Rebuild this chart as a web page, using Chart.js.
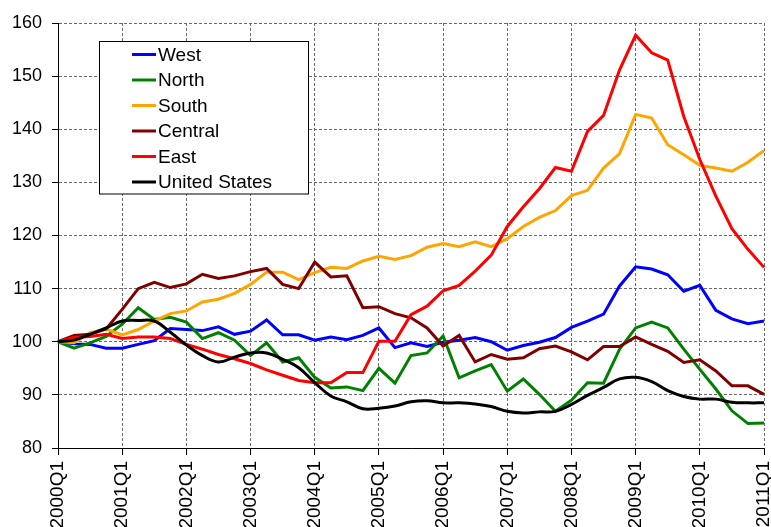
<!DOCTYPE html>
<html>
<head>
<meta charset="utf-8">
<script src="https://cdn.jsdelivr.net/npm/chart.js@4.4.1/dist/chart.umd.min.js"></script>
<style>
  html, body { margin: 0; padding: 0; background: #fff; }
  #wrap { width: 771px; height: 527px; }
</style>
</head>
<body>
<div id="wrap"><canvas id="c" width="771" height="527"></canvas></div>
<script>
const categories = [
  "2000Q1","2000Q2","2000Q3","2000Q4",
  "2001Q1","2001Q2","2001Q3","2001Q4",
  "2002Q1","2002Q2","2002Q3","2002Q4",
  "2003Q1","2003Q2","2003Q3","2003Q4",
  "2004Q1","2004Q2","2004Q3","2004Q4",
  "2005Q1","2005Q2","2005Q3","2005Q4",
  "2006Q1","2006Q2","2006Q3","2006Q4",
  "2007Q1","2007Q2","2007Q3","2007Q4",
  "2008Q1","2008Q2","2008Q3","2008Q4",
  "2009Q1","2009Q2","2009Q3","2009Q4",
  "2010Q1","2010Q2","2010Q3","2010Q4",
  "2011Q1"
];

const west = [100,99.6,99.5,98.8,98.8,99.5,100.2,102.5,102.3,102.1,102.8,101.4,102.0,104.1,101.3,101.3,
  100.3,100.9,100.4,101.2,102.6,98.9,99.8,99.1,99.9,100.3,100.8,100.0,98.4,99.3,99.9,100.8,
  102.7,103.9,105.2,110.5,114.1,113.7,112.6,109.5,110.6,105.9,104.3,103.4,103.9];

const north = [100,98.8,99.8,101.0,103.3,106.4,104.2,104.6,103.7,100.6,101.7,100.3,97.4,99.8,96.2,97.0,
  93.3,91.3,91.5,90.8,95.0,92.2,97.4,97.9,101.1,93.2,94.5,95.7,90.7,93.0,90.1,86.9,
  89.0,92.3,92.2,98.6,102.6,103.7,102.6,98.6,94.8,91.1,87.0,84.6,84.7];

const south = [100,99.8,101.7,102.4,101.3,102.3,103.9,105.3,105.8,107.5,108.0,109.1,110.8,113.1,113.1,111.7,
  113.0,114.0,113.8,115.2,116.1,115.5,116.2,117.8,118.5,117.9,118.8,117.9,119.4,121.7,123.4,124.7,
  127.5,128.5,132.7,135.4,142.8,142.1,137.1,135.2,133.2,132.7,132.1,133.8,136.0];

const central = [100,101.2,101.4,102.4,106.1,110.0,111.2,110.2,110.9,112.7,111.9,112.4,113.2,113.8,110.8,110.0,
  115.0,112.2,112.4,106.4,106.6,105.3,104.5,102.6,99.2,101.2,96.2,97.6,96.7,97.0,98.7,99.2,
  98.1,96.6,99.1,99.1,100.9,99.5,98.2,96.1,96.6,94.5,91.7,91.7,90.1];

const east = [100,100.8,101.0,101.4,100.6,100.9,100.9,100.6,99.5,98.6,97.6,96.8,95.9,94.7,93.7,92.7,
  92.3,92.3,94.2,94.2,100.1,100.1,105.1,106.7,109.6,110.6,113.3,116.3,121.7,125.4,128.8,132.8,
  132.1,139.6,142.6,151.2,157.7,154.4,153.0,142.4,134.3,127.4,121.3,117.4,114.0];

const unitedStates = [100,100.3,101.4,102.6,103.9,104.0,103.9,101.8,99.4,97.4,96.2,97.1,97.9,97.9,96.7,95.1,
  92.3,89.8,88.7,87.4,87.5,87.9,88.7,88.9,88.5,88.5,88.3,87.8,86.9,86.6,86.8,86.9,
  88.2,89.9,91.4,93.0,93.3,92.5,90.8,89.7,89.2,89.2,88.6,88.5,88.5];

const seriesNames = ["West","North","South","Central","East","United States"];
const seriesColors = ["#0000FF","#008000","#FFA500","#800000","#FF0000","#000000"];
const seriesData = [west, north, south, central, east, unitedStates];

const yMin = 80, yMax = 160, yStep = 10;
const labelEvery = 4;

const datasets = seriesData.map((d, i) => ({
  label: seriesNames[i],
  data: d,
  borderColor: seriesColors[i],
  backgroundColor: seriesColors[i],
  borderWidth: 3,
  pointRadius: 0,
  pointHoverRadius: 0,
  tension: i === 5 ? 0.4 : 0,
  fill: false,
  order: seriesNames.length - i
}));

const boxLegend = {
  id: 'boxLegend',
  afterDatasetsDraw(chart) {
    const ctx = chart.ctx;
    const x0 = 99.5, y0 = 41.5, w = 209, h = 152.5;
    ctx.save();
    ctx.fillStyle = '#fff';
    ctx.fillRect(x0, y0, w, h);
    ctx.strokeStyle = '#000';
    ctx.lineWidth = 1;
    ctx.strokeRect(x0, y0, w, h);
    ctx.font = '19px "Liberation Sans", Arial, sans-serif';
    ctx.textBaseline = 'middle';
    ctx.textAlign = 'left';
    chart.data.datasets.forEach((ds, i) => {
      const y = 54.5 + i * 25.5;
      ctx.strokeStyle = ds.borderColor;
      ctx.lineWidth = 3;
      ctx.beginPath();
      ctx.moveTo(132, y);
      ctx.lineTo(156, y);
      ctx.stroke();
      ctx.fillStyle = '#000';
      ctx.fillText(ds.label, 158, y + 1);
    });
    ctx.restore();
  }
};

const gridColor = '#6a6a6a';

new Chart(document.getElementById('c'), {
  type: 'line',
  data: { labels: categories, datasets: datasets },
  options: {
    responsive: false,
    animation: false,
    layout: { padding: { top: 23, right: 7, bottom: 0, left: 0 } },
    plugins: { legend: { display: false }, tooltip: { enabled: false } },
    scales: {
      x: {
        type: 'category',
        offset: false,
        grid: {
          color: gridColor,
          lineWidth: 1,
          tickLength: 7,
          tickColor: '#000',
          drawOnChartArea: true
        },
        border: { color: '#000', width: 1, dash: [3, 2] },
        ticks: {
          autoSkip: false,
          maxRotation: 90,
          minRotation: 90,
          padding: 6,
          color: '#000',
          font: { family: '"Liberation Sans", Arial, sans-serif', size: 19 },
          callback: function (value, index) {
            return index % labelEvery === 0 ? this.getLabelForValue(value) : null;
          }
        },
        afterFit(scale) {
          scale.height = 79;
          scale.paddingLeft = 0;
          scale.paddingRight = 0;
        }
      },
      y: {
        min: yMin,
        max: yMax,
        grid: {
          color: gridColor,
          lineWidth: 1,
          tickLength: 6,
          tickColor: '#000'
        },
        border: { color: '#000', width: 1, dash: [3, 2] },
        ticks: {
          stepSize: yStep,
          padding: 10,
          color: '#000',
          font: { family: '"Liberation Sans", Arial, sans-serif', size: 18 }
        },
        afterFit(scale) {
          scale.width = 58;
          scale.paddingTop = 0;
          scale.paddingBottom = 0;
        }
      }
    }
  },
  plugins: [boxLegend]
});
</script>
</body>
</html>
